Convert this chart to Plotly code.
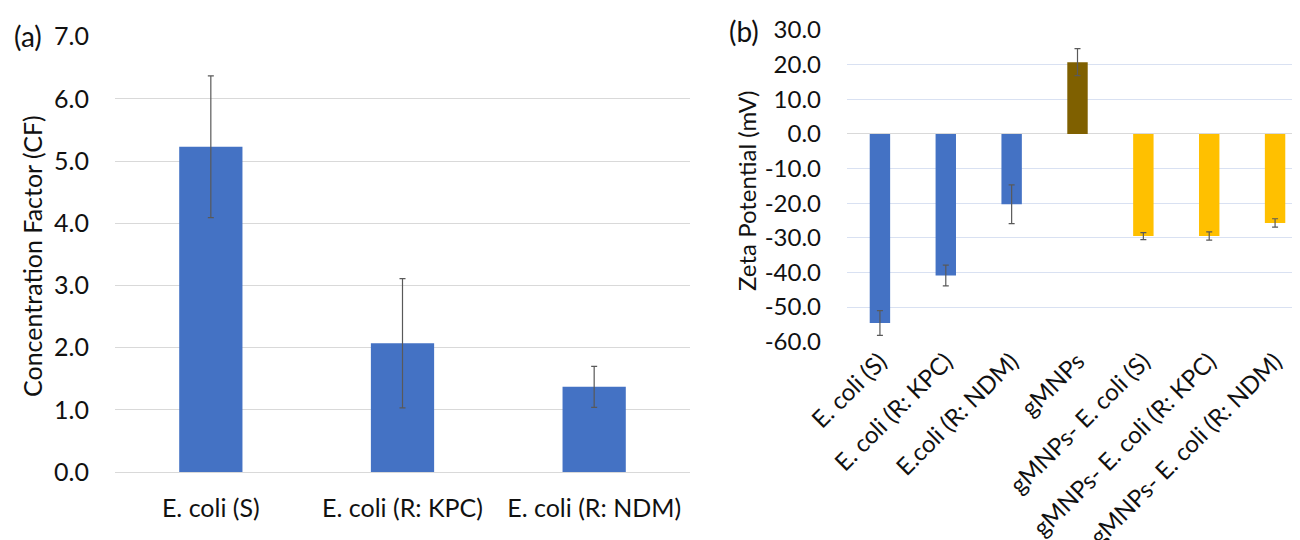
import plotly.graph_objects as go

# Panel (a) data
cf_categories = ["E. coli (S)", "E. coli (R: KPC)", "E. coli (R: NDM)"]
cf_values = [5.23, 2.07, 1.37]
cf_errors = [1.14, 1.04, 0.33]
cf_ticks = [0, 1, 2, 3, 4, 5, 6, 7]
cf_ticklabels = ["0.0", "1.0", "2.0", "3.0", "4.0", "5.0", "6.0", "7.0"]

# Panel (b) data
zp_categories = ["E. coli (S)", "E. coli (R: KPC)", "E.coli (R: NDM)", "gMNPs",
                 "gMNPs- E. coli (S)", "gMNPs- E. coli (R: KPC)", "gMNPs- E. coli (R: NDM)"]
zp_values = [-54.6, -40.9, -20.3, 20.7, -29.5, -29.5, -25.7]
zp_errors = [3.6, 3.0, 5.6, 3.9, 1.0, 1.2, 1.2]
zp_ticks = [-60, -50, -40, -30, -20, -10, 0, 10, 20, 30]
zp_ticklabels = ["-60.0", "-50.0", "-40.0", "-30.0", "-20.0", "-10.0", "0.0", "10.0", "20.0", "30.0"]

BLUE = "#4472C4"
BROWN = "#7F6000"
GOLD = "#FFC000"
zp_colors = [BLUE, BLUE, BLUE, BROWN, GOLD, GOLD, GOLD]

FONT = "Lato"
TXT = "#111111"

fig = go.Figure()

fig.add_trace(go.Bar(
    x=cf_categories, y=cf_values, width=0.33,
    marker=dict(color=BLUE, line=dict(width=0)),
    error_y=dict(type="data", array=cf_errors, visible=True,
                 color="#595959", thickness=1.2, width=3),
    xaxis="x", yaxis="y", showlegend=False,
))

fig.add_trace(go.Bar(
    x=zp_categories, y=zp_values, width=0.31,
    marker=dict(color=zp_colors, line=dict(width=0)),
    error_y=dict(type="data", array=zp_errors, visible=True,
                 color="#595959", thickness=1.2, width=3),
    xaxis="x2", yaxis="y2", showlegend=False,
))

W, H = 1300, 540
OFF = 8  # page body margin offset


def px_x(p):
    return (p - OFF) / W


def px_y(p):
    return (H - (p - OFF)) / H


fig.update_layout(
    width=W, height=H,
    margin=dict(l=0, r=0, t=0, b=0, autoexpand=False),
    paper_bgcolor="white", plot_bgcolor="white",
    font=dict(family=FONT, size=25, color=TXT),
    xaxis=dict(domain=[px_x(115), px_x(690)], range=[-0.5, 2.5], automargin=False,
               showgrid=False, zeroline=False, showline=False,
               ticks="outside", ticklen=14, tickcolor="rgba(0,0,0,0)",
               tickfont=dict(size=25, family=FONT, color=TXT), anchor="y"),
    yaxis=dict(domain=[px_y(472), px_y(36.7)], range=[0, 7], automargin=False,
               tickvals=cf_ticks, ticktext=cf_ticklabels,
               showgrid=True, gridcolor="#D9D9D9", gridwidth=1.3,
               zeroline=True, zerolinecolor="#D9D9D9", zerolinewidth=1.3,
               showline=False, ticks="", ticklabelstandoff=25,
               tickfont=dict(size=25, family=FONT, color=TXT), anchor="x"),
    xaxis2=dict(domain=[px_x(847), 1.0], range=[-0.5, 6.5], automargin=False,
                showgrid=False, zeroline=False, showline=False,
                ticks="", tickangle=-45,
                tickfont=dict(size=24, family=FONT, color=TXT), anchor="y2"),
    yaxis2=dict(domain=[px_y(341.7), px_y(30)], range=[-60, 30], automargin=False,
                tickvals=zp_ticks, ticktext=zp_ticklabels,
                showgrid=True, gridcolor="#D9E1F2", gridwidth=1.3,
                zeroline=True, zerolinecolor="#D9D9D9", zerolinewidth=1.3,
                showline=False, ticks="", ticklabelstandoff=25,
                tickfont=dict(size=24, family=FONT, color=TXT), anchor="x2"),
)

fig.add_annotation(text="(a)", x=px_x(28), y=px_y(36), xref="paper", yref="paper",
                   showarrow=False, font=dict(size=28, family=FONT, color=TXT),
                   xanchor="center", yanchor="middle")
fig.add_annotation(text="(b)", x=px_x(744), y=px_y(31), xref="paper", yref="paper",
                   showarrow=False, font=dict(size=28, family=FONT, color=TXT),
                   xanchor="center", yanchor="middle")
fig.add_annotation(text="Concentration Factor (CF)", x=px_x(32), y=px_y(256),
                   xref="paper", yref="paper", showarrow=False, textangle=-90,
                   font=dict(size=25, family=FONT, color=TXT),
                   xanchor="center", yanchor="middle")
fig.add_annotation(text="Zeta Potential (mV)", x=px_x(746), y=px_y(191),
                   xref="paper", yref="paper", showarrow=False, textangle=-90,
                   font=dict(size=24, family=FONT, color=TXT),
                   xanchor="center", yanchor="middle")

fig.write_html("out.html")
